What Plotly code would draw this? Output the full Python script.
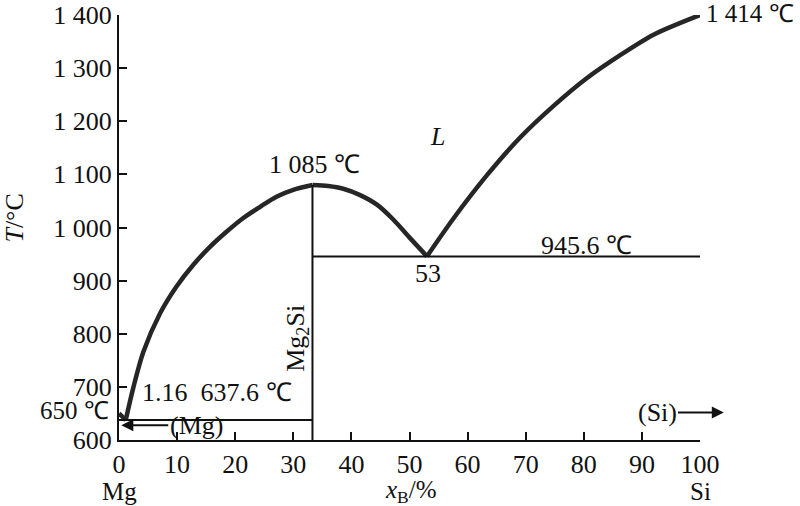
import plotly.graph_objects as go

# ---- data ----
mg_branch_x = [0, 1.16]
mg_branch_T = [650, 637.6]

mg2si_left_x = [1.16, 2.5, 4.2, 7.1, 9.9, 12.8, 15.7, 18.5, 21.4, 24.3, 27.1, 30.0, 33.3]
mg2si_left_T = [637.6, 700, 766, 839, 889, 930, 964, 992, 1018, 1039, 1058, 1071, 1080]

mg2si_right_x = [33.3, 36.0, 38.6, 41.5, 44.4, 47.2, 50.1, 53]
mg2si_right_T = [1080, 1078, 1073, 1061, 1043, 1015, 980, 945.6]

si_branch_x = [53, 57.5, 63.3, 69.0, 74.8, 80.5, 86.2, 92.0, 100]
si_branch_T = [945.6, 1016, 1098, 1169, 1229, 1281, 1324, 1363, 1400]

eutectic_low_x = [0, 33.3]
eutectic_low_T = [637.6, 637.6]
eutectic_high_x = [33.3, 100]
eutectic_high_T = [945.6, 945.6]
compound_x = [33.3, 33.3]
compound_T = [600, 1080]

x_ticks = [0, 10, 20, 30, 40, 50, 60, 70, 80, 90, 100]
x_ticktext = ["0", "10", "20", "30", "40", "50", "60", "70", "80", "90", "100"]
y_ticks = [600, 700, 800, 900, 1000, 1100, 1200, 1300, 1400]
y_ticktext = ["600", "700", "800", "900", "1 000", "1 100", "1 200", "1 300", "1 400"]

FONT = "Liberation Serif"
FS = 26
INK = "#111111"
thick = dict(color="#262626", width=4.5)
thin = dict(color=INK, width=2)

fig = go.Figure()
fig.add_trace(go.Scatter(x=mg_branch_x, y=mg_branch_T, mode="lines", line=thick))
fig.add_trace(go.Scatter(x=mg2si_left_x, y=mg2si_left_T, mode="lines",
                         line=dict(thick, shape="spline", smoothing=0.8)))
fig.add_trace(go.Scatter(x=mg2si_right_x, y=mg2si_right_T, mode="lines",
                         line=dict(thick, shape="spline", smoothing=0.8)))
fig.add_trace(go.Scatter(x=si_branch_x, y=si_branch_T, mode="lines",
                         line=dict(thick, shape="spline", smoothing=0.8)))
fig.add_trace(go.Scatter(x=eutectic_low_x, y=eutectic_low_T, mode="lines", line=thin))
fig.add_trace(go.Scatter(x=eutectic_high_x, y=eutectic_high_T, mode="lines", line=thin))
fig.add_trace(go.Scatter(x=compound_x, y=compound_T, mode="lines", line=thin))

ann = []
def txt(x, y, s, xanchor="center", yanchor="middle", angle=0, ref="data", size=FS):
    r = "x" if ref == "data" else "paper"
    ry = "y" if ref == "data" else "paper"
    ann.append(dict(x=x, y=y, xref=r, yref=ry, text=s, showarrow=False,
                    xanchor=xanchor, yanchor=yanchor, textangle=angle, borderpad=0,
                    font=dict(family=FONT, size=size, color=INK)))

# inside the plot (data coordinates)
txt(33.7, 1118, "1 085 ℃")
txt(54.8, 1171, "<i>L</i>")
txt(80.5, 966, "945.6 ℃")
txt(53.2, 913, "53")
txt(16.9, 689, "1.16  637.6 ℃")
txt(30.6, 792, "Mg<sub>2</sub>Si", angle=-90)
# outside the plot (paper coordinates)
txt(1.009, 1.003, "1 414 ℃", xanchor="left", ref="paper", size=25)
txt(-0.0155, 0.069, "650 ℃", xanchor="right", ref="paper", size=25)
txt(0.0, -0.122, "Mg", ref="paper", size=25)
txt(1.0, -0.122, "Si", ref="paper", size=25)
txt(0.5026, -0.122, "<i>x</i><sub>B</sub>/%", ref="paper", size=25)
txt(-0.18, 0.522, "<i>T</i>/°C", angle=-90, ref="paper")

# arrows
ann.append(dict(x=0.4, y=628, xref="x", yref="y", ax=13.3, ay=628, axref="x", ayref="y",
                text="(Mg)", showarrow=True, arrowhead=2, arrowsize=1.2, arrowwidth=2,
                arrowcolor=INK, font=dict(family=FONT, size=FS, color=INK)))
ann.append(dict(x=104.1, y=652, xref="x", yref="y", ax=92.6, ay=652, axref="x", ayref="y",
                text="(Si)", showarrow=True, arrowhead=2, arrowsize=1.2, arrowwidth=2,
                arrowcolor=INK, font=dict(family=FONT, size=FS, color=INK)))

fig.update_layout(
    width=800, height=506,
    margin=dict(l=119, r=100, t=15, b=66),
    plot_bgcolor="white", paper_bgcolor="white",
    showlegend=False,
    annotations=ann,
    font=dict(family=FONT, size=FS, color=INK),
)
axis_common = dict(ticks="inside", ticklen=8, tickwidth=2, tickcolor=INK,
                   showline=True, linewidth=2, linecolor=INK,
                   showgrid=False, zeroline=False, automargin=False,
                   tickfont=dict(family=FONT, size=FS, color=INK))
fig.update_xaxes(range=[0, 100], tickvals=x_ticks, ticktext=x_ticktext, **axis_common)
fig.update_yaxes(range=[600, 1400], tickvals=y_ticks, ticktext=y_ticktext, **axis_common)

fig.write_html("out.html", config={"displayModeBar": False},
               post_script="document.body.style.margin='0';document.body.style.overflow='hidden';")
